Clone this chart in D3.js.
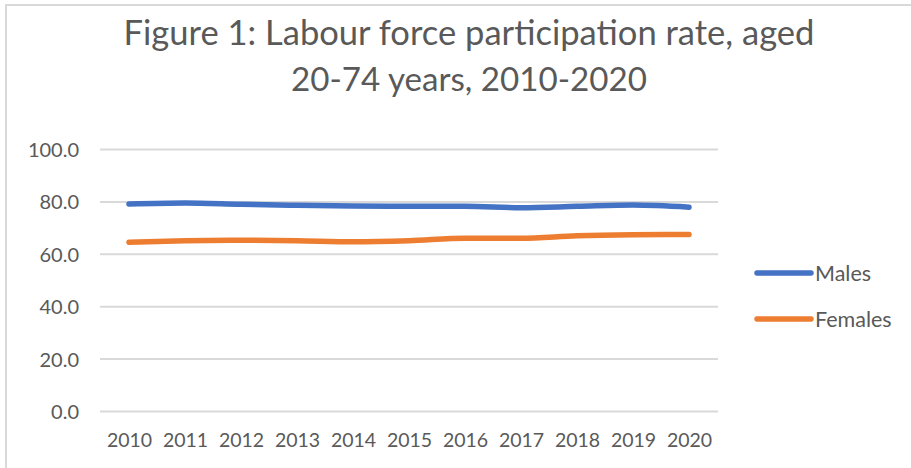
<!DOCTYPE html>
<html>
<head>
<meta charset="utf-8">
<script src="https://cdn.jsdelivr.net/npm/d3@7"></script>
<style>
  html, body { margin: 0; padding: 0; background: #fff; }
  svg { display: block; }
  text { font-family: Lato, "Open Sans", "DejaVu Sans", sans-serif; fill: #595959; }
</style>
</head>
<body>
<script>
// Labour force participation rate (%), aged 20-74
const years = [2010, 2011, 2012, 2013, 2014, 2015, 2016, 2017, 2018, 2019, 2020];
const males = [79.2, 79.6, 79.1, 78.7, 78.4, 78.3, 78.3, 77.8, 78.3, 78.8, 78.0];
const females = [64.6, 65.2, 65.4, 65.2, 64.8, 65.2, 66.1, 66.1, 67.1, 67.5, 67.6];
const yTicks = [0, 20, 40, 60, 80, 100];
const seriesNames = ["Males", "Females"];
const seriesColors = ["#4472C4", "#ED7D31"];
const titleLines = ["Figure 1: Labour force participation rate, aged", "20-74 years, 2010-2020"];

const W = 911, H = 468;
const svg = d3.select("body").append("svg").attr("width", W).attr("height", H);

// chart frame
svg.append("rect").attr("x", 6).attr("y", 5).attr("width", W + 10).attr("height", H + 10)
  .attr("fill", "none").attr("stroke", "#d9d9d9").attr("stroke-width", 2);

// title, each line fitted to its measured width
const titleSpec = [{ y: 45, w: 691 }, { y: 91, w: 356 }];
titleLines.forEach((t, i) => {
  const el = svg.append("text").attr("x", 469).attr("y", titleSpec[i].y)
    .attr("text-anchor", "middle").attr("font-size", 31).text(t);
  const len = el.node().getComputedTextLength();
  el.attr("font-size", 31 * titleSpec[i].w / len);
});

const plot = { left: 100, right: 718, top: 149.5, bottom: 411.5 };
const x = d3.scalePoint().domain(years).range([129, 689]);
const y = d3.scaleLinear().domain([0, 100]).range([plot.bottom, plot.top]);

// gridlines
svg.append("g").selectAll("line").data(yTicks).join("line")
  .attr("x1", plot.left).attr("x2", plot.right)
  .attr("y1", d => y(d)).attr("y2", d => y(d))
  .attr("stroke", "#d9d9d9").attr("stroke-width", 2);

// y axis labels
const yAxis = d3.axisLeft(y).tickValues(yTicks).tickFormat(d3.format(".1f")).tickSize(0).tickPadding(0);
const gy = svg.append("g").attr("transform", "translate(79,0)").call(yAxis);
gy.select(".domain").remove();
gy.selectAll("text").attr("font-size", 20).attr("fill", "#595959").attr("dy", "0.35em")
  .style("font-family", "Lato, 'Open Sans', sans-serif");

// x axis labels
const xAxis = d3.axisBottom(x).tickSize(0).tickPadding(0);
const gx = svg.append("g").attr("transform", "translate(0,433)").call(xAxis);
gx.select(".domain").remove();
gx.selectAll("text").attr("font-size", 19.5).attr("fill", "#595959").attr("dy", "0.71em")
  .style("font-family", "Lato, 'Open Sans', sans-serif");

// series lines
const line = d3.line().x((d, i) => x(years[i])).y(d => y(d)).curve(d3.curveMonotoneX);
[males, females].forEach((vals, i) => {
  svg.append("path").datum(vals).attr("d", line)
    .attr("fill", "none").attr("stroke", seriesColors[i])
    .attr("stroke-width", 5.5).attr("stroke-linecap", "round");
});

// legend
const legend = svg.append("g");
seriesNames.forEach((name, i) => {
  const ly = 273 + i * 46;
  legend.append("line").attr("x1", 757).attr("x2", 811).attr("y1", ly).attr("y2", ly)
    .attr("stroke", seriesColors[i]).attr("stroke-width", 5.5).attr("stroke-linecap", "round");
  legend.append("text").attr("x", 815).attr("y", ly).attr("dy", "0.35em")
    .attr("font-size", 21.5).text(name);
});
</script>
</body>
</html>
